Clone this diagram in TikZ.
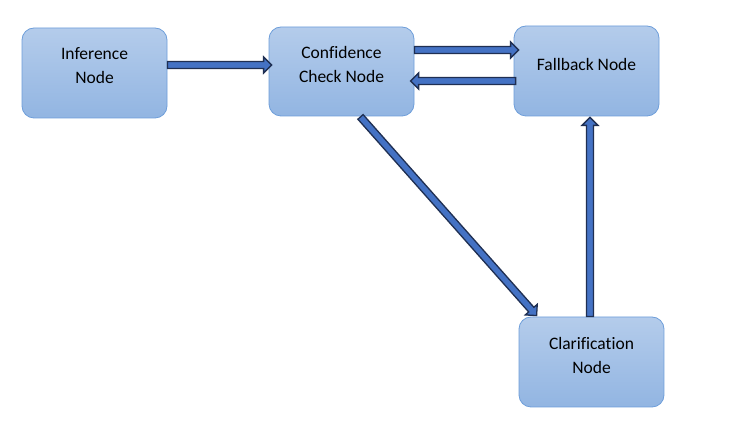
\documentclass[tikz,border=0pt]{standalone}
\usepackage{fontspec}
\setmainfont[Ligatures=NoCommon]{Carlito}
\usetikzlibrary{calc}
\definecolor{boxtop}{RGB}{180,204,235}
\definecolor{boxbot}{RGB}{146,181,226}
\definecolor{boxline}{RGB}{110,158,218}
\definecolor{arrfill}{RGB}{68,114,196}
\definecolor{arrline}{RGB}{31,47,82}
\tikzset{
  box/.style={draw=boxline, line width=0.8pt, rounded corners=12pt,
    top color=boxtop, bottom color=boxbot, minimum width=145pt, minimum height=90pt, inner sep=0pt},
  lbl/.style={align=center, font=\fontsize{17.5}{24}\selectfont, yshift=7pt, text=black},
  barrowstyle/.style={draw=arrline, fill=arrfill, line width=1.3pt, line join=miter}
}
\newcommand\barrow[2]{%
  \path[barrowstyle] let \p1=(#1), \p2=(#2), \n1={atan2(\y2-\y1,\x2-\x1)}, \n2={veclen(\x2-\x1,\y2-\y1)} in
  [shift={(\p1)}, rotate=\n1] (0,-3.5) -- (\n2-8,-3.5) -- (\n2-8,-8) -- (\n2,0) -- (\n2-8,8) -- (\n2-8,3.5) -- (0,3.5) -- cycle;}
\begin{document}
\begin{tikzpicture}[x=1pt, y=-1pt]
\useasboundingbox (0,0) rectangle (753,427);
\fill[white] (0,0) rectangle (753,427);
\node[box, label={[lbl]center:Inference\\Node}] (inf) at (94.5,73) {};
\node[box, minimum height=89pt, label={[lbl]center:Confidence\\Check Node}] (conf) at (341.5,71.5) {};
\node[box, label={[lbl]center:Fallback Node}] (fall) at (586.5,71) {};
\node[box, label={[lbl]center:Clarification\\Node}] (clar) at (591.5,362) {};
\barrow{$(inf.east)+(0,-8)$}{$(conf.west)+(3,-6.5)$}
\barrow{$(conf.east)+(0,-21.5)$}{$(fall.west)+(5,-21)$}
\barrow{$(fall.west)+(2,10)$}{$(conf.west)+(142,9.5)$}
\barrow{$(conf.south)+(19,0.5)$}{$(clar.north west)+(18,-1)$}
\barrow{$(clar.north)+(-1.5,0)$}{$(fall.south)+(3.5,1)$}
\end{tikzpicture}
\end{document}
